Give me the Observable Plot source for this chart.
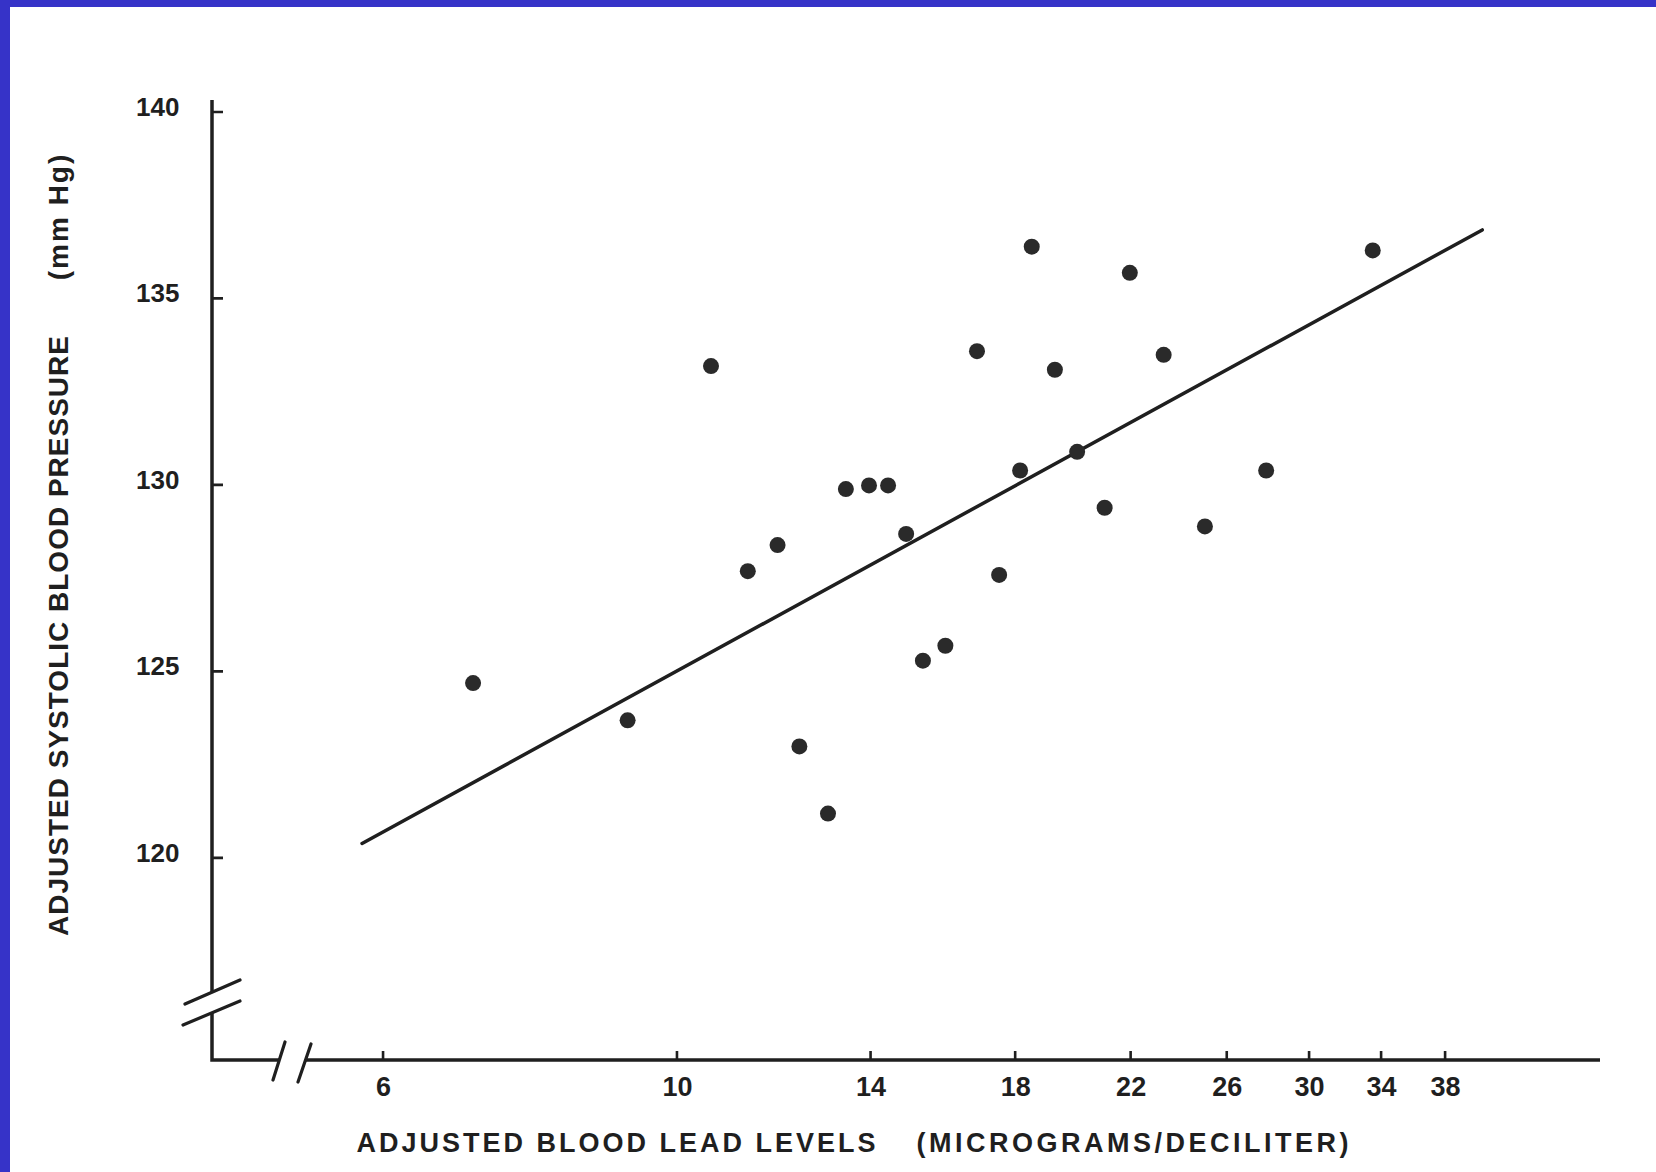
<!DOCTYPE html>
<html>
<head>
<meta charset="utf-8">
<script src="https://cdn.jsdelivr.net/npm/d3@7"></script>
<script src="https://cdn.jsdelivr.net/npm/@observablehq/plot@0.6"></script>
<style>
  html, body { margin: 0; padding: 0; background: #fff; }
  #wrap { position: relative; width: 1656px; height: 1172px; overflow: hidden; background: #fff; }
  #chart { position: absolute; left: 0; top: 0; }
  .edge-top { position: absolute; left: 0; top: 0; width: 1656px; height: 7px; background: #3633c8; }
  .edge-left { position: absolute; left: 0; top: 0; width: 10px; height: 1172px; background: #3633c8; }
</style>
</head>
<body>
<div id="wrap">
  <div id="chart"></div>
  <div class="edge-top"></div>
  <div class="edge-left"></div>
</div>
<script>
// ---- data ----
const leadLevels = [7.01, 9.17, 10.60, 11.30, 11.90, 12.36, 12.99, 13.40, 13.95, 14.42,
                    14.88, 15.32, 15.93, 16.83, 17.49, 18.14, 18.51, 19.27, 20.03, 21.01,
                    21.95, 23.28, 25.01, 27.82, 33.48];
const systolicBP = [124.7, 123.7, 133.2, 127.7, 128.4, 123.0, 121.2, 129.9, 130.0, 130.0,
                    128.7, 125.3, 125.7, 133.6, 127.6, 130.4, 136.4, 133.1, 130.9, 129.4,
                    135.7, 133.5, 128.9, 130.4, 136.3];
const fitLead = [5.78, 40.5];
const fitBP = [120.4, 136.85];
const xTicks = [6, 10, 14, 18, 22, 26, 30, 34, 38];
const yTicks = [120, 125, 130, 135, 140];
const xDomain = [4.457, 49.74];
const yDomain = [114.58, 140.32];
const xTitle = ["ADJUSTED BLOOD LEAD LEVELS", "(MICROGRAMS/DECILITER)"];
const yTitle = ["ADJUSTED SYSTOLIC BLOOD PRESSURE", "(mm Hg)"];

const points = leadLevels.map((x, i) => ({x, y: systolicBP[i]}));
const fit = fitLead.map((x, i) => ({x, y: fitBP[i]}));

const INK = "#1f1f1f";
const FONT = "'Liberation Sans', Arial, Helvetica, sans-serif";

// axis lines with breaks + inward ticks, drawn through the scales
function axisFrame(index, scales, values, dim) {
  const x0 = dim.marginLeft;
  const y0 = dim.height - dim.marginBottom;
  const yTop = dim.marginTop;
  const xEnd = dim.width - dim.marginRight;
  const g = d3.create("svg:g").attr("fill", "none").attr("stroke", INK);
  const ax = d3.path();
  ax.moveTo(x0, yTop); ax.lineTo(x0, y0 - 68);
  ax.moveTo(x0, y0 - 47); ax.lineTo(x0, y0); ax.lineTo(x0 + 67, y0);
  ax.moveTo(x0 + 93, y0); ax.lineTo(xEnd, y0);
  g.append("path").attr("d", ax.toString()).attr("stroke-width", 3.5);
  const br = d3.path();
  br.moveTo(x0 - 27, y0 - 56); br.lineTo(x0 + 28, y0 - 80);
  br.moveTo(x0 - 29, y0 - 35); br.lineTo(x0 + 28, y0 - 59);
  br.moveTo(x0 + 61, y0 + 20); br.lineTo(x0 + 73, y0 - 18);
  br.moveTo(x0 + 86, y0 + 22); br.lineTo(x0 + 99, y0 - 16);
  g.append("path").attr("d", br.toString()).attr("stroke-width", 3.2).attr("stroke-linecap", "round");
  const tk = d3.path();
  for (const t of xTicks) { const px = scales.x(t); tk.moveTo(px, y0); tk.lineTo(px, y0 - 9); }
  for (const t of yTicks) { const py = scales.y(t); tk.moveTo(x0, py); tk.lineTo(x0 + 11, py); }
  g.append("path").attr("d", tk.toString()).attr("stroke-width", 2.6);
  return g.node();
}

const chart = Plot.plot({
  width: 1656,
  height: 1172,
  marginLeft: 212,
  marginRight: 56,
  marginTop: 100,
  marginBottom: 112,
  style: { background: "#fff", fontFamily: FONT, color: INK, overflow: "visible" },
  x: { type: "log", domain: xDomain, axis: null },
  y: { type: "linear", domain: yDomain, axis: null },
  marks: [
    axisFrame,
    Plot.line(fit, { x: "x", y: "y", stroke: INK, strokeWidth: 3.5 }),
    Plot.dot(points, { x: "x", y: "y", r: 8, fill: "#2a2a2a", stroke: "none" }),
    // tick labels
    Plot.text(xTicks, { x: d => d, y: yDomain[0], text: d => String(d), dy: 27,
      fontSize: 27, fontWeight: "bold", fill: INK }),
    Plot.text(yTicks, { x: xDomain[0], y: d => d, text: d => String(d), dx: -33, dy: -5,
      textAnchor: "end", fontSize: 26, fontWeight: "bold", fill: INK }),
    // axis titles
    Plot.text([xTitle[0]], { frameAnchor: "bottom-left", text: d => d, dx: 144, dy: 91,
      textAnchor: "start", fontSize: 27, fontWeight: "bold", fill: INK }),
    Plot.text([xTitle[1]], { frameAnchor: "bottom-left", text: d => d, dx: 704, dy: 91,
      textAnchor: "start", fontSize: 27, fontWeight: "bold", fill: INK }),
    Plot.text([yTitle[0]], { frameAnchor: "left", text: d => d, dx: -153, dy: 55,
      rotate: -90, textAnchor: "middle", fontSize: 28, fontWeight: "bold", fill: INK }),
    Plot.text([yTitle[1]], { frameAnchor: "left", text: d => d, dx: -153, dy: -364,
      rotate: -90, textAnchor: "middle", fontSize: 28, fontWeight: "bold", fill: INK })
  ]
});

// letter spacing like the typeset original
d3.select(chart).selectAll("text").each(function () {
  const t = this.textContent;
  if (t === xTitle[0]) this.setAttribute("letter-spacing", "3");
  else if (t === xTitle[1]) this.setAttribute("letter-spacing", "3.5");
  else if (t === yTitle[0]) this.setAttribute("letter-spacing", "1");
  else if (t === yTitle[1]) this.setAttribute("letter-spacing", "2");
});

document.getElementById("chart").appendChild(chart);
</script>
</body>
</html>
